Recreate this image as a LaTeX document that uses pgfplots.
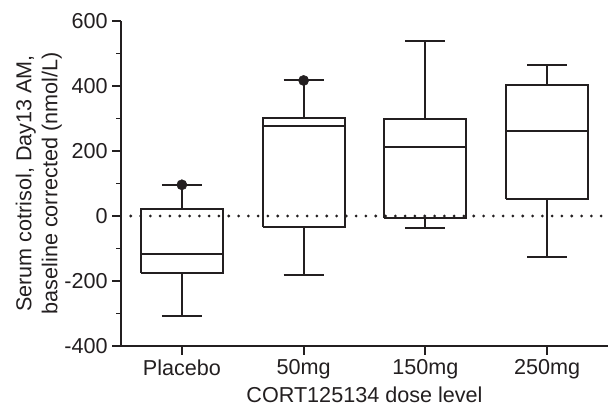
\documentclass[border=0pt]{standalone}
\usepackage{fontspec}
\setmainfont{Liberation Sans}
\usepackage{pgfplots}
\pgfplotsset{compat=1.18}
\definecolor{ink}{HTML}{231F20}

% box half width 0.336, cap half width 0.164
\begin{document}
\begin{tikzpicture}[font=\fontsize{16.2}{19.5}\selectfont]
\begin{axis}[
  scale only axis, width=365.25pt, height=243.75pt,
  xmin=-0.5, xmax=3.5, ymin=-400, ymax=600,
  axis x line*=bottom, axis y line*=left,
  axis line style={ink, line width=1.4pt},
  xtick={0,1,2,3}, xticklabels={Placebo,50mg,150mg,250mg},
  ytick={-400,-200,0,200,400,600},
  minor ytick={-300,-100,100,300,500},
  tick align=outside,
  major tick length=6.5pt, minor tick length=3.5pt,
  tick style={ink, line width=1.4pt},
  /pgf/number format/assume math mode=true,
  xlabel={CORT125134 dose level},
  xlabel style={at={(axis description cs:0.5,0)}, anchor=base, yshift=-42.5pt},
  ylabel={Serum cotrisol, Day13 AM,\\baseline corrected (nmol/L)},
  ylabel style={align=center, anchor=center, at={(axis description cs:-0.169,0.5)}},
  tick label style={text=ink},
  label style={text=ink},
  unbounded coords=jump,
  box/.style={ink, line width=1.5pt, line join=miter, mark=none},
]
\addplot[ink, line width=2.3pt, dash pattern=on 0pt off 7.35pt, line cap=round]
  coordinates {(-0.42,0) (3.5,0)};

% Placebo: lw -307, q1 -176, med -118, q3 20, uw 96
\addplot[box] coordinates {
  (-0.336,-176) (0.336,-176) (0.336,20) (-0.336,20) (-0.336,-176) (nan,nan)
  (-0.336,-118) (0.336,-118) (nan,nan)
  (0,20) (0,96) (nan,nan) (-0.164,96) (0.164,96) (nan,nan)
  (0,-176) (0,-307) (nan,nan) (-0.164,-307) (0.164,-307)};
% 50mg: lw -182, q1 -33, med 278, q3 301, uw 417
\addplot[box] coordinates {
  (0.664,-33) (1.336,-33) (1.336,301) (0.664,301) (0.664,-33) (nan,nan)
  (0.664,278) (1.336,278) (nan,nan)
  (1,301) (1,417) (nan,nan) (0.836,417) (1.164,417) (nan,nan)
  (1,-33) (1,-182) (nan,nan) (0.836,-182) (1.164,-182)};
% 150mg: lw -38, q1 -6, med 211, q3 299, uw 537
\addplot[box] coordinates {
  (1.664,-6) (2.336,-6) (2.336,299) (1.664,299) (1.664,-6) (nan,nan)
  (1.664,211) (2.336,211) (nan,nan)
  (2,299) (2,537) (nan,nan) (1.836,537) (2.164,537) (nan,nan)
  (2,-6) (2,-38) (nan,nan) (1.836,-38) (2.164,-38)};
% 250mg: lw -127, q1 51, med 262, q3 402, uw 466
\addplot[box] coordinates {
  (2.664,51) (3.336,51) (3.336,402) (2.664,402) (2.664,51) (nan,nan)
  (2.664,262) (3.336,262) (nan,nan)
  (3,402) (3,466) (nan,nan) (2.836,466) (3.164,466) (nan,nan)
  (3,51) (3,-127) (nan,nan) (2.836,-127) (3.164,-127)};

% outliers on the upper caps
\addplot[only marks, mark=*, mark size=3.8pt, ink, mark options={fill=ink, draw=ink, line width=0.4pt}]
  coordinates {(0,96) (1,417)};
\end{axis}
\pgfresetboundingbox
\path (current axis.south west) ++(-90.75pt,-46.5pt) coordinate (bl);
\path (current axis.north east) ++(0pt,15.75pt) coordinate (tr);
\useasboundingbox (bl) rectangle (tr);
\end{tikzpicture}
\end{document}
